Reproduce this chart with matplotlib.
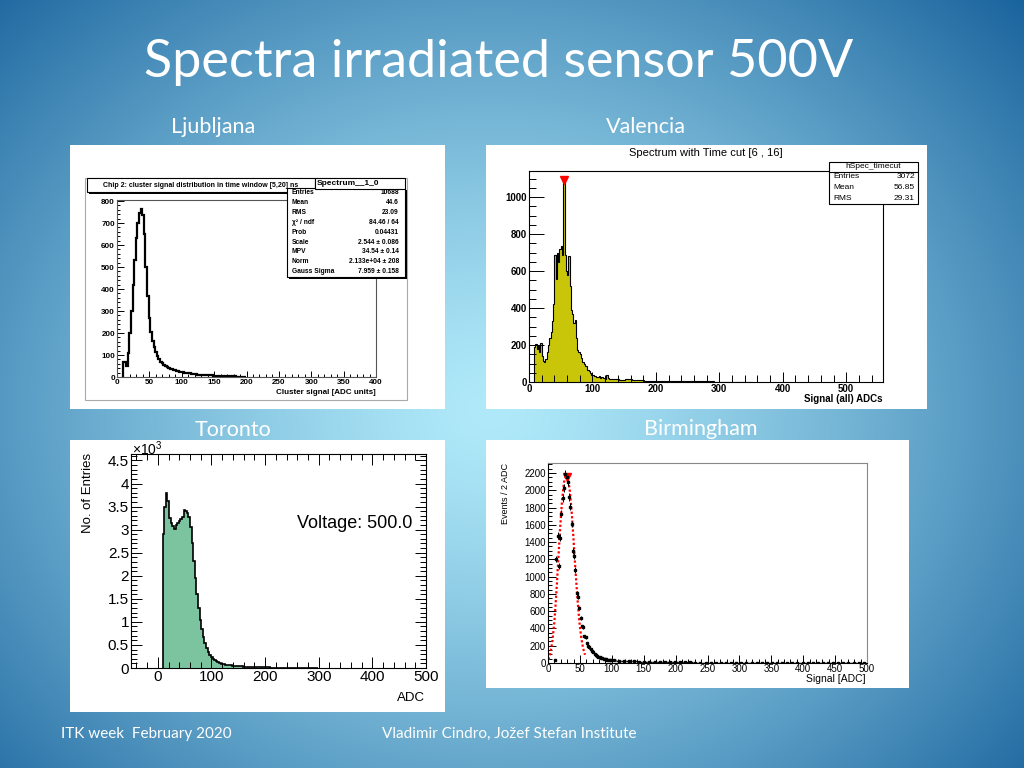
import numpy as np
import matplotlib.pyplot as plt
from matplotlib.patches import Rectangle
from matplotlib.ticker import MultipleLocator

plt.rcParams['font.family'] = ['Liberation Sans', 'DejaVu Sans']
plt.rcParams['mathtext.fontset'] = 'custom'
plt.rcParams['mathtext.rm'] = 'Liberation Sans'

W, H = 1024, 768

# ── Ljubljana: cluster signal (step line) ──
lj_edges = np.concatenate([np.arange(9, 99.1, 2.5), np.arange(104, 199.1, 5)])
lj_counts = [70, 68, 48, 110, 200, 300, 420, 530, 630, 700,
             745, 765, 735, 650, 500, 370, 270, 205, 165, 135,
             112, 95, 82, 70, 62, 55, 50, 46, 42, 38,
             35, 32, 30, 28, 26, 25,
             22, 19, 17, 15, 13, 11, 10, 9, 8, 7,
             6, 5, 5, 4, 4, 3, 3, 2, 2, 2]
lj_stats = [("Entries", "10688"), ("Mean", "44.6"), ("RMS", "23.09"),
            ("χ² / ndf", "84.46 / 64"), ("Prob", "0.04431"),
            ("Scale", "2.544 ± 0.086"), ("MPV", "34.54 ± 0.14"),
            ("Norm", "2.133e+04 ± 208"), ("Gauss Sigma", "7.959 ± 0.158")]

# ── Valencia: spectrum with time cut (filled) ──
va_edges = np.concatenate([np.arange(8, 132.1, 2), np.arange(142, 352.1, 10)])
va_counts = [190, 205, 180, 200, 160, 210, 140, 115, 110, 125,
             160, 200, 240, 270, 330, 420, 690, 560, 700, 650,
             720, 735, 690, 1090, 690, 600, 580, 680, 520, 390,
             370, 320, 335, 240, 175, 160, 150, 130, 110, 100,
             85, 85, 65, 60, 50, 40, 40, 30, 32, 28,
             25, 30, 22, 25, 20, 22, 18, 40, 20, 18,
             15, 16,
             14, 12, 15, 10, 9, 8, 7, 8, 6, 5,
             5, 4, 4, 3, 3, 3, 2, 2, 2, 1, 1, 1]
va_peak = (54.5, 1095)
va_stats = [("Entries", "3072"), ("Mean", "56.85"), ("RMS", "29.31")]

# ── Toronto: ADC spectrum (filled) ──
to_edges = np.concatenate([np.arange(9, 129.1, 3), np.arange(139, 299.1, 10)])
to_counts = [2900, 3500, 3800, 3620, 3250, 3150, 3080, 3020, 3100, 3150,
             3180, 3220, 3280, 3420, 3400, 3370, 3280, 3050, 2700, 2330,
             1950, 1600, 1300, 1040, 840, 680, 550, 440, 350, 285,
             235, 200, 170, 145, 125, 110, 97, 86, 76, 68,
             55, 42, 34, 27, 22, 18, 14, 11, 9, 7, 6, 5, 4, 3, 3, 2, 2]

# ── Birmingham: points with errors + fit ──
bm_x = np.arange(11, 100, 2)
bm_counts = [30, 1200, 1475, 1120, 1450, 1730, 1910, 2030, 2190, 2150,
             2100, 1920, 1810, 1610, 1300, 1240, 1080, 810, 770, 640,
             520, 425, 415, 310, 300, 230, 200, 180, 160, 140,
             125, 110, 95, 85, 75, 68, 62, 57, 52, 48,
             44, 40, 37, 34, 31]
bm_tail_x = np.arange(103, 500, 8)
bm_tail = [30, 27, 24, 21, 19, 17, 15, 13, 12, 11,
           10, 9, 8, 7, 7, 6, 5, 5, 4, 4,
           4, 3, 3, 3, 3, 2, 2, 2, 2, 2,
           2, 2, 1, 1, 1, 1, 1, 1, 1, 1,
           1, 1, 1, 1, 1, 1, 1, 1, 1, 1]
bm_fit_x = [1, 4, 7, 10, 13, 16, 19, 22, 25, 28, 31, 34, 37, 40, 43, 46, 49, 52, 55, 58]
bm_fit_y = [40, 120, 260, 480, 800, 1180, 1560, 1880, 2090, 2170,
            2150, 2010, 1760, 1430, 1080, 760, 490, 300, 170, 95]
bm_peak = (30, 2150)


fig = plt.figure(figsize=(W / 100, H / 100), dpi=100)

# slide background: radial blue gradient
bg = fig.add_axes([0, 0, 1, 1])
bg.set_axis_off()
yy, xx = np.mgrid[0:H, 0:W]
r = np.sqrt(((xx - 490) / 560) ** 2 + ((yy - 410) / 470) ** 2)
t = (np.clip(r, 0, 1.3) / 1.3) ** 1.3
light = np.array([176, 234, 250]) / 255
dark = np.array([24, 98, 156]) / 255
img = light + (dark - light) * t[..., None]
bg.imshow(img, extent=[0, W, H, 0], aspect='auto')
bg.set_xlim(0, W)
bg.set_ylim(H, 0)

for x0, y0, x1, y1 in [(70, 145, 445, 409), (486, 145, 927, 409),
                       (70, 440, 445, 712), (486, 440, 909, 688)]:
    bg.add_patch(Rectangle((x0, y0), x1 - x0, y1 - y0, facecolor='white', edgecolor='none'))
bg.add_patch(Rectangle((85, 178), 322, 222, facecolor='none', edgecolor='#aaaaaa', lw=0.8))

slide = dict(family=['Lato', 'DejaVu Sans'], color='white')
bg.text(499, 77, "Spectra irradiated sensor 500V", fontsize=37.5, ha='center', va='baseline', **slide)
bg.text(213, 133, "Ljubljana", fontsize=15.5, ha='center', va='baseline', **slide)
bg.text(646, 133, "Valencia", fontsize=15.5, ha='center', va='baseline', **slide)
bg.text(233, 436, "Toronto", fontsize=15.5, ha='center', va='baseline', **slide)
bg.text(701, 435, "Birmingham", fontsize=15.5, ha='center', va='baseline', **slide)
bg.text(61, 738, "ITK week  February 2020", fontsize=11, ha='left', va='baseline', **slide)
bg.text(382, 738, "Vladimir Cindro, Jožef Stefan Institute", fontsize=11, ha='left', va='baseline', **slide)


def add_ax(x0, y0, x1, y1):
    return fig.add_axes([x0 / W, 1 - y1 / H, (x1 - x0) / W, (y1 - y0) / H])


def root_style(ax, xt, yt, xminor, yminor, size, weight='normal', ylab=None,
               xlen=6, ylen=6, mlen=3, mirror=False):
    ax.set_xticks(xt, [f'{v:g}' for v in xt], fontsize=size, fontweight=weight)
    ylab = ylab or [f'{v:g}' for v in yt]
    ax.set_yticks(yt, ylab, fontsize=size, fontweight=weight)
    ax.xaxis.set_minor_locator(MultipleLocator(xminor))
    ax.yaxis.set_minor_locator(MultipleLocator(yminor))
    ax.tick_params(which='both', direction='in', top=mirror, right=mirror, width=0.7, pad=1.5)
    ax.tick_params(axis='x', which='major', length=xlen)
    ax.tick_params(axis='y', which='major', length=ylen)
    ax.tick_params(which='minor', length=mlen)
    for s in ax.spines.values():
        s.set_linewidth(0.8)


# Ljubljana
ax1 = add_ax(117, 200, 376, 377)
ax1.stairs(lj_counts, lj_edges, color='black', lw=1.6)
ax1.set_xlim(0, 400)
ax1.set_ylim(0, 805)
root_style(ax1, np.arange(0, 401, 50), np.arange(0, 801, 100), 10, 20, 5.8, 'bold',
           xlen=4, ylen=5, mlen=2)
for s in ax1.spines.values():
    s.set_color('#555555')

# Valencia
ax2 = add_ax(529, 171, 883, 382)
ax2.stairs(va_counts, va_edges, fill=True, color='#c9c60a')
ax2.stairs(va_counts, va_edges, color='black', lw=0.8)
ax2.plot(*va_peak, marker='v', color='red', ms=6, ls='none')
ax2.set_xlim(0, 558)
ax2.set_ylim(0, 1142)
root_style(ax2, np.arange(0, 501, 100), np.arange(0, 1001, 200), 20, 50, 7, 'bold',
           xlen=7, ylen=11, mlen=5)

# Toronto
ax3 = add_ax(131, 454, 426, 668)
ax3.stairs(to_counts, to_edges, fill=True, color='#7cc4a0')
ax3.stairs(to_counts, to_edges, color='black', lw=1.2)
ax3.set_xlim(-50, 500)
ax3.set_ylim(0, 4640)
yt = np.arange(0, 4501, 500)
root_style(ax3, np.arange(0, 501, 100), yt, 20, 100, 11,
           ylab=[f'{v / 1000:g}' for v in yt], xlen=8, ylen=8, mlen=4, mirror=True)

# Birmingham
ax4 = add_ax(548, 463, 867, 663)
ax4.plot(bm_fit_x, bm_fit_y, color='red', lw=1.6, ls=(0, (1, 1)))
ax4.errorbar(bm_x, bm_counts, yerr=np.sqrt(bm_counts), xerr=1, fmt='s', ms=1.7,
             color='black', elinewidth=0.7, capsize=0)
ax4.errorbar(bm_tail_x, bm_tail, xerr=4, fmt='s', ms=1.7, color='black',
             elinewidth=1.0, capsize=0)
ax4.plot(*bm_peak, marker='v', color='red', ms=6, ls='none')
ax4.set_xlim(0, 500)
ax4.set_ylim(0, 2316)
root_style(ax4, np.arange(0, 501, 50), np.arange(0, 2201, 200), 10, 50, 7,
           xlen=6, ylen=6, mlen=3)
ax4.tick_params(axis='x', pad=1)
for s in ('top', 'right'):
    ax4.spines[s].set_color('#888888')

# overlay: ROOT boxes and axis titles
ov = fig.add_axes([0, 0, 1, 1], zorder=10)
ov.set_axis_off()
ov.set_xlim(0, W)
ov.set_ylim(H, 0)


def box(x, y, w, h, shadow=True):
    if shadow:
        ov.add_patch(Rectangle((x + 2, y + 2), w, h, facecolor='black', edgecolor='none'))
    ov.add_patch(Rectangle((x, y), w, h, facecolor='white', edgecolor='black', lw=0.8))


box(87, 178, 228, 14)
ov.text(201, 185.5, "Chip 2: cluster signal distribution in time window [5,20] ns",
        fontsize=5, fontweight='bold', ha='center', va='center')
box(287, 188, 118, 89)
for i, (k, v) in enumerate(lj_stats):
    y = 192.5 + 9.9 * i
    ov.text(292, y, k, fontsize=4.8, fontweight='bold', va='center')
    ov.text(399, y, v, fontsize=4.8, fontweight='bold', va='center', ha='right')
box(315, 178, 90, 11, shadow=False)
ov.text(317, 183.5, "Spectrum__1_0", fontsize=6, fontweight='bold', va='center')
ov.text(376, 392, "Cluster signal [ADC units]", fontsize=5.8, fontweight='bold',
        ha='right', va='center')

ov.text(706, 153, "Spectrum with Time cut [6 , 16]", fontsize=8, ha='center', va='center')
box(829, 162, 89, 42, shadow=False)
ov.plot([829, 918], [172, 172], color='black', lw=0.8)
ov.text(873.5, 167, "hSpec_timecut", fontsize=6, ha='center', va='center')
for i, (k, v) in enumerate(va_stats):
    y = 177 + 10.5 * i
    ov.text(833, y, k, fontsize=6, va='center')
    ov.text(915, y, v, fontsize=6, va='center', ha='right')
ov.text(883, 399, "Signal (all) ADCs", fontsize=7, fontweight='bold', ha='right', va='center')

ov.text(132, 449, "×10$^{3}$", fontsize=10, ha='left', va='center')
ov.text(88, 453, "No. of Entries", fontsize=9.5, rotation=90, ha='center', va='top')
ov.text(425, 698, "ADC", fontsize=9.5, ha='right', va='center')
ov.text(412, 523, "Voltage: 500.0", fontsize=13, ha='right', va='center')

ov.text(506, 463, "Events / 2 ADC", fontsize=6.5, rotation=90, ha='center', va='top')
ov.text(866, 679, "Signal [ADC]", fontsize=7.5, ha='right', va='center')

fig.savefig("out.png", dpi=100)
